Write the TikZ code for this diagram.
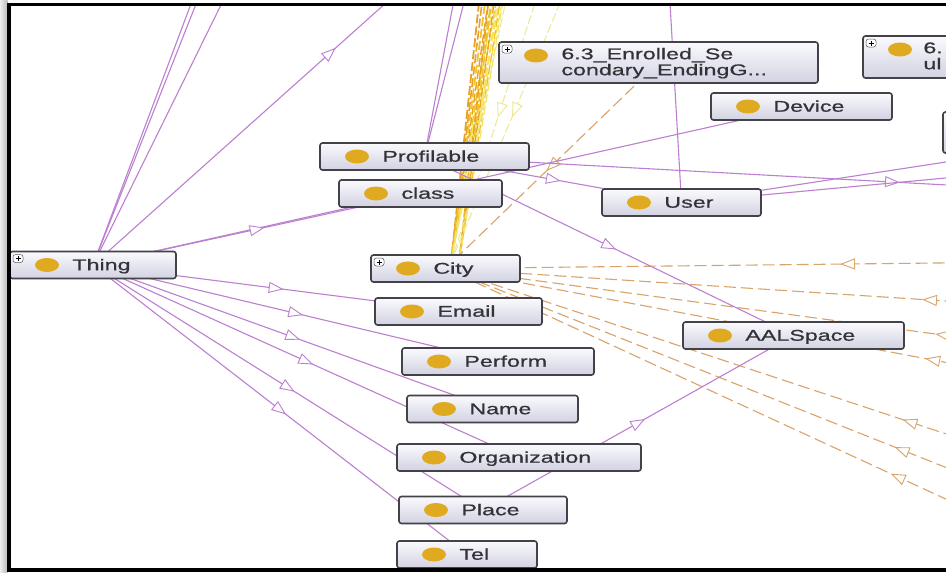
\documentclass[tikz,border=0pt]{standalone}
\usepackage{fontspec}
\newfontfamily\boxfont[FakeStretch=1.5,FakeBold=0.7]{Liberation Sans}
\usetikzlibrary{calc,decorations.markings}

\definecolor{edgeP}{RGB}{188,128,208}
\definecolor{edgeO}{RGB}{216,164,106}
\definecolor{bandO}{RGB}{232,160,40}
\definecolor{bandG}{RGB}{240,196,40}
\definecolor{bandY}{RGB}{245,228,90}
\definecolor{bandL}{RGB}{236,232,150}
\definecolor{boxline}{RGB}{66,66,72}
\definecolor{boxtop}{RGB}{250,250,253}
\definecolor{boxbot}{RGB}{210,210,226}
\definecolor{dotc}{RGB}{224,170,32}
\definecolor{txt}{RGB}{50,50,56}

\pgfdeclarelayer{paper}
\pgfdeclarelayer{edges}
\pgfsetlayers{paper,edges,main}

\tikzset{
  clsbox/.style={draw=boxline, line width=1.6pt, rounded corners=2.5pt,
    top color=boxtop, bottom color=boxbot, inner sep=0pt, minimum height=27pt,
    path picture={\fill[dotc] ($(path picture bounding box.north west)+(37,13.5)$)
      ellipse [x radius=12pt, y radius=7pt];}},
  clsplus/.style={clsbox,
    path picture={\fill[dotc] ($(path picture bounding box.north west)+(37,13.5)$)
      ellipse [x radius=12pt, y radius=7pt];
      \draw[gray!70!black, line width=0.5pt, fill=white]
        ($(path picture bounding box.north west)+(3,3)$) rectangle +(10,8);
      \draw[black, line width=0.7pt]
        ($(path picture bounding box.north west)+(5.5,7)$) -- +(5,0)
        ($(path picture bounding box.north west)+(8,4.5)$) -- +(0,5);}},
  lbl/.style={anchor=base west, inner sep=0pt, text=txt,
    font=\boxfont\fontsize{15.5}{17}\selectfont},
  mid/.style={postaction={decorate, decoration={markings,
    mark=at position 0.5 with {\draw[solid, #1, line width=0.9pt, fill=white]
      (-6.5pt,-5pt) -- (6.5pt,0pt) -- (-6.5pt,5pt) -- cycle;}}}},
  isa/.style={draw=edgeP, line width=1.1pt, mid=edgeP},
  isaplain/.style={draw=edgeP, line width=1.1pt},
  rel/.style={draw=edgeO, line width=1.1pt, dash pattern=on 12pt off 5pt, mid=edgeO},
  band/.style={line width=#1, dash pattern=on 9pt off 3pt},
}

% class box with its dot and a one-line label
\newcommand\ontoclass[6]{%
  \node[#2, minimum width=#5pt] (#1) at (#3,#4) {};
  \node[lbl] (#1-t) at ($(#1.north west)+(63,19.5)$) {#6};
}

\begin{document}
\begin{tikzpicture}[x=1pt,y=-1pt]
\useasboundingbox (0,0) rectangle (946,573);
\begin{pgfonlayer}{paper}
  \fill[white] (0,0) rectangle (946,573);
  \shade[left color=gray!15, right color=gray!55] (0,0) rectangle (7.5,573);
\end{pgfonlayer}

% ---------------- classes ----------------
\begin{scope}
\clip (10.5,6) rectangle (946,568);
\ontoclass{thing}{clsplus}{93}{265}{166}{Thing}
\ontoclass{profilable}{clsbox}{424.5}{156.5}{209}{Profilable}
\ontoclass{class}{clsbox}{420.5}{193.5}{163}{class}
\ontoclass{city}{clsplus}{445.5}{268.5}{149}{City}
\ontoclass{email}{clsbox}{458.5}{311.5}{167}{Email}
\ontoclass{perform}{clsbox}{498}{361.5}{192}{Perform}
\ontoclass{name}{clsbox}{492.5}{409}{171}{Name}
\ontoclass{organization}{clsbox}{519}{457.5}{244}{Organization}
\ontoclass{place}{clsbox}{483}{510}{168}{Place}
\ontoclass{tel}{clsbox}{467}{554.5}{140}{Tel}
\ontoclass{aalspace}{clsbox}{793.5}{335.5}{221}{AALSpace}
\ontoclass{user}{clsbox}{681.5}{202.5}{159}{User}
\ontoclass{device}{clsbox}{801.5}{106.5}{181}{Device}

\node[clsplus, minimum width=319pt, minimum height=41pt] (enrolled) at (658.5,62.5) {};
\node[lbl] (enrolled-t1) at ($(enrolled.north west)+(63,18)$) {6.3\_Enrolled\_Se};
\node[lbl] (enrolled-t2) at ($(enrolled.north west)+(63,34)$) {condary\_EndingG...};

\node[clsplus, minimum width=237pt, minimum height=42pt] (enrolledb) at (981.5,57) {};
\node[lbl] (enrolledb-t1) at ($(enrolledb.north west)+(61,18)$) {6.};
\node[lbl] (enrolledb-t2) at ($(enrolledb.north west)+(61,34)$) {ul};

\node[clsbox, minimum width=200pt, minimum height=41pt] (rbox) at (1043,132.5) {};
\end{scope}

% ---------------- connectors ----------------
\begin{pgfonlayer}{edges}
\begin{scope}
\clip (10.5,6) rectangle (946,568);

% dense band of dashed links leaving City upwards
\coordinate (bandbase) at (451,262);
\coordinate (bandbase2) at (459,262);
\foreach \xt/\c/\w/\ph [count=\i] in {
    490.1/bandO/1.8/0, 494.3/bandO/1.6/4, 498.5/bandG/1.8/2, 502.7/bandO/1.4/7,
    506.9/bandG/1.6/5, 509.7/bandY/1.5/1, 513.9/bandG/1.2/6, 518.1/bandY/1.3/3,
    522.3/bandY/1.1/8}{
  \coordinate (bt\i) at (\xt,-100);
  \draw[\c, band=\w pt, dash phase=\ph pt] (bandbase) -- (bt\i);
}
\foreach \xt/\c/\w/\ph [count=\i] in {
    500/bandO/1.6/3, 504/bandG/1.6/6, 508/bandO/1.3/1, 512/bandY/1.5/5,
    516/bandG/1.3/2, 520/bandY/1.2/7}{
  \coordinate (bs\i) at (\xt,-100);
  \draw[\c, band=\w pt, dash phase=\ph pt] (bandbase2) -- (bs\i);
}
\coordinate (bl1) at (527,-100);
\coordinate (bl2) at (549.6,-42);
\coordinate (bl3) at (579,-42);
\draw[bandL, band=1pt] (bandbase) -- (bl1);
\draw[bandL, band=1pt, mid=bandL] (bl2) -- (bandbase);
\draw[bandL, band=1pt, mid=bandL] (bl3) -- (bandbase);

% dashed property links ending at City
\coordinate (r1) at (1250.5,259.5);
\coordinate (r2) at (1414.5,331.5);
\coordinate (r3) at (1440.5,401.5);
\coordinate (r4) at (1420.5,451.5);
\coordinate (r5) at (1374.5,575.5);
\coordinate (r6) at (1358.5,631.5);
\coordinate (r7) at (1350.5,685.5);
\foreach \i in {1,...,7}{\draw[rel] (r\i) -- (city.center);}
\draw[rel] (enrolled.center) -- (city.center);

% subclass links of Thing
\coordinate (ta) at (305,-300);
\coordinate (tb) at (316,-300);
\coordinate (tc) at (371,-300);
\coordinate (td) at (567,-159);
\draw[isaplain] (thing.center) -- (ta);
\draw[isaplain] (thing.center) -- (tb);
\draw[isaplain] (thing.center) -- (tc);
\draw[isa] (thing.center) -- (td);
\draw[isa] (thing.center) -- (device.center);
\draw[isa] (thing.center) -- (class.center);
\foreach \n in {email,perform,name,organization,place,tel}{
  \draw[isa] (thing.center) -- (\n.center);
}

% other subclass links
\coordinate (pa) at (472.7,-100);
\coordinate (pb) at (490.2,-100);
\coordinate (pr) at (1359.5,207.5);
\draw[isaplain] (profilable.center) -- (pa);
\draw[isaplain] (profilable.center) -- (pb);
\draw[isa] (profilable.center) -- (user.center);
\draw[isa] (profilable.center) -- (pr);
\draw[isa] (profilable.center) -- (aalspace.center);
\draw[isa] (place.center) -- (aalspace.center);

\coordinate (ua) at (658.3,-200);
\coordinate (ub) at (1100,138.4);
\coordinate (uc) at (1100,163.7);
\draw[isaplain] (ua) -- (user.center);
\draw[isaplain] (user.center) -- (ub);
\draw[isaplain] (user.center) -- (uc);
\end{scope}
\end{pgfonlayer}

% frame
\draw[black, line width=3.5pt] (960,4.5) -- (9,4.5) -- (9,570) -- (960,570);
\end{tikzpicture}
\end{document}
